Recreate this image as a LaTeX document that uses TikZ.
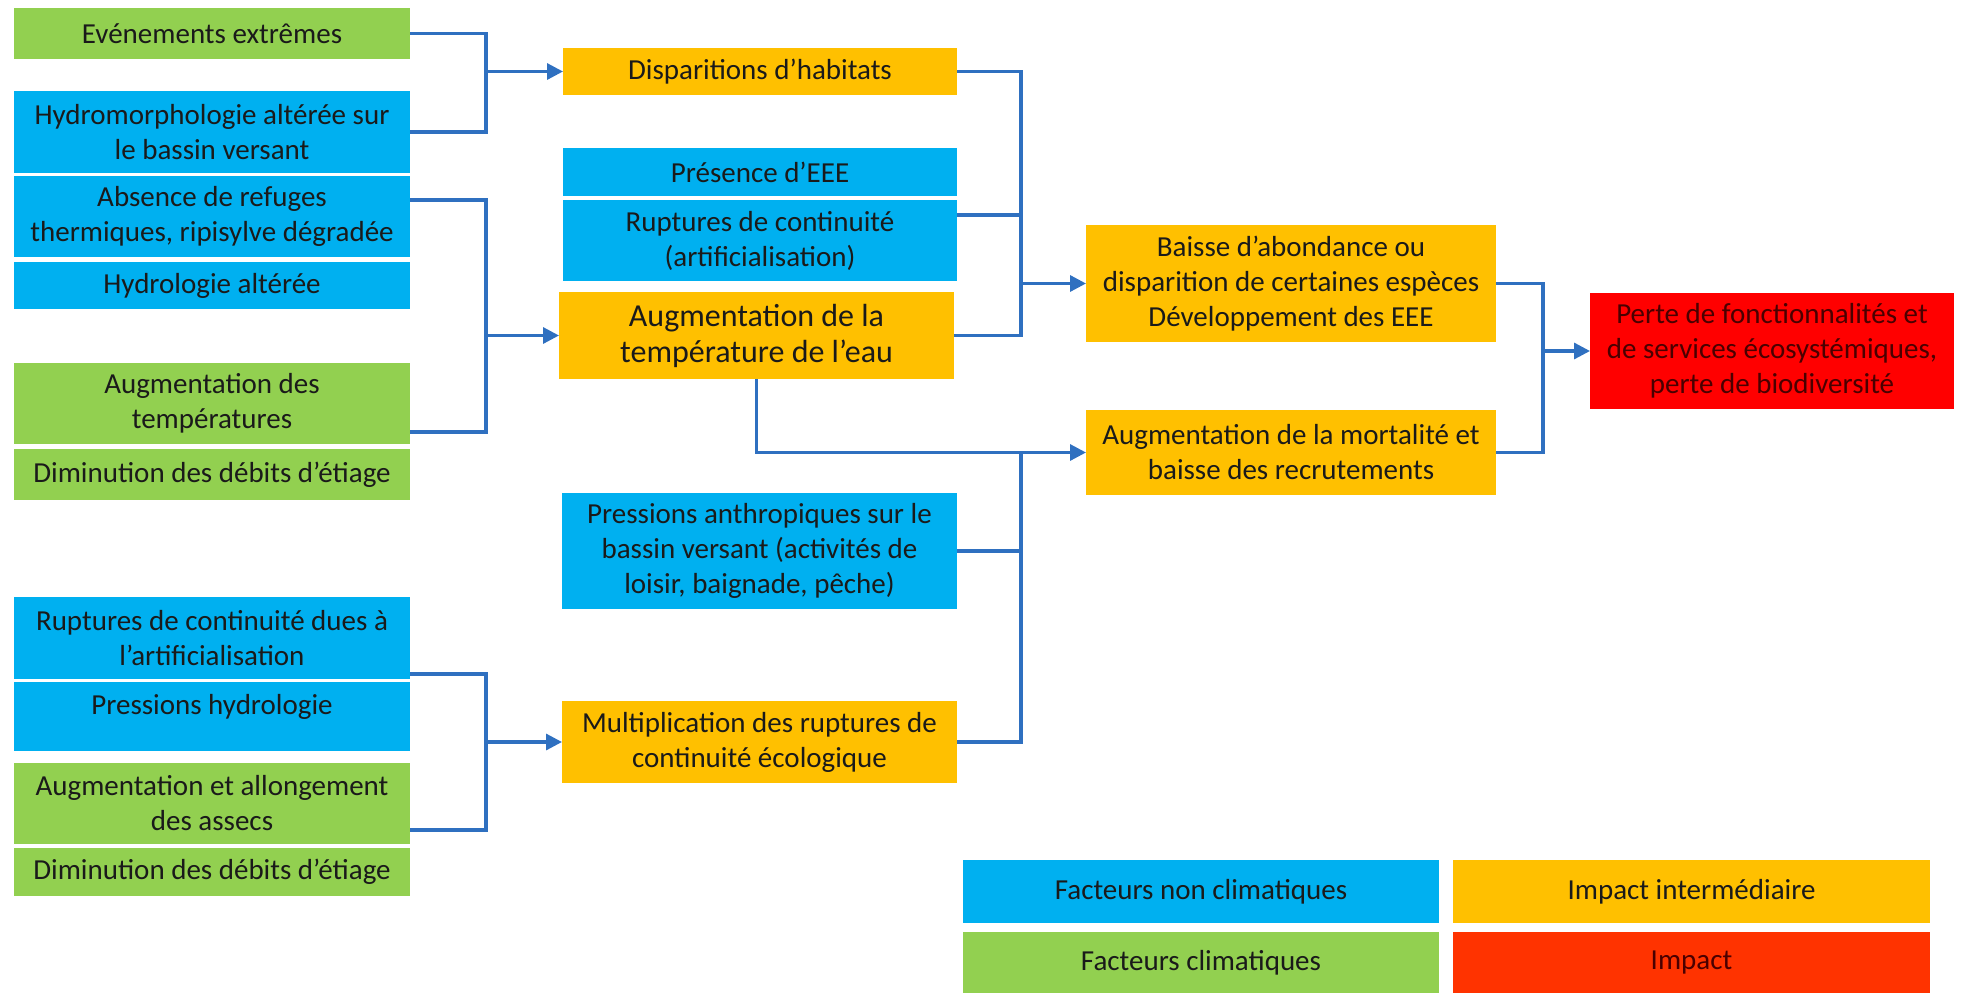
\documentclass[tikz,border=0pt]{standalone}
\usepackage{fontspec}
\setmainfont{Carlito}
\usetikzlibrary{arrows.meta,calc}
\definecolor{cblue}{HTML}{00B0F0}
\definecolor{cgreen}{HTML}{92D050}
\definecolor{corange}{HTML}{FFC000}
\definecolor{cred}{HTML}{FF0000}
\definecolor{cimpact}{HTML}{FF3300}
\definecolor{cline}{HTML}{2F70C0}
\definecolor{ctext}{HTML}{1A1A1A}
\definecolor{credtext}{HTML}{4A0000}
\begin{document}
\begin{tikzpicture}[x=1pt,y=-1pt,
  box/.style={rectangle, inner sep=0pt, outer sep=0pt, align=center, text=ctext,
    font=\fontsize{29}{35}\selectfont},
  nonclim/.style={box, fill=cblue},
  clim/.style={box, fill=cgreen},
  inter/.style={box, fill=corange},
  impactbox/.style={box, fill=cred, text=credtext},
  conn/.style={draw=cline, line width=3.2pt},
  arr/.style={conn, -{Triangle[length=16pt,width=16pt]}}
]
\useasboundingbox (0,0) rectangle (1968,993);
\fill[white] (0,0) rectangle (1968,993);

% left column
\node[clim, minimum width=396pt, minimum height=51pt] (ev) at (212,33.5) {Evénements extrêmes};
\node[nonclim, minimum width=396pt, minimum height=82pt] (hm) at (212,132) {Hydromorphologie altérée sur\\le bassin versant};
\node[nonclim, minimum width=396pt, minimum height=81pt] (abs) at (212,216.5) {Absence de refuges\\thermiques, ripisylve dégradée};
\node[nonclim, minimum width=396pt, minimum height=47pt] (hyd) at (212,285.5) {Hydrologie altérée};
\node[clim, minimum width=396pt, minimum height=81pt] (augT) at (212,403.5) {Augmentation des\\températures};
\node[clim, minimum width=396pt, minimum height=51pt] (dim1) at (212,474.5) {Diminution des débits d’étiage};
\node[nonclim, minimum width=396pt, minimum height=82pt] (rd) at (212,638) {Ruptures de continuité dues à\\l’artificialisation};
\node[nonclim, minimum width=396pt, minimum height=69pt, text depth=24pt] (ph) at (212,716.5) {Pressions hydrologie};
\node[clim, minimum width=396pt, minimum height=81pt] (aa) at (212,803.5) {Augmentation et allongement\\des assecs};
\node[clim, minimum width=396pt, minimum height=48pt] (dim2) at (212,872) {Diminution des débits d’étiage};

% middle column
\node[inter, minimum width=394pt, minimum height=47pt] (dis) at (760,71.5) {Disparitions d’habitats};
\node[nonclim, minimum width=394pt, minimum height=48pt] (pe) at (760,172) {Présence d’EEE};
\node[nonclim, minimum width=394pt, minimum height=81pt] (ra) at (760,240.5) {Ruptures de continuité\\(artificialisation)};
\node[inter, minimum width=395pt, minimum height=87pt, font=\fontsize{32}{36}\selectfont] (augE) at (756.5,335.5) {Augmentation de la\\température de l’eau};
\node[nonclim, minimum width=395pt, minimum height=116pt] (pa) at (759.5,551) {Pressions anthropiques sur le\\bassin versant (activités de\\loisir, baignade, pêche)};
\node[inter, minimum width=395pt, minimum height=82pt] (mu) at (759.5,742) {Multiplication des ruptures de\\continuité écologique};

% right column
\node[inter, minimum width=410pt, minimum height=117pt] (ba) at (1291,283.5) {Baisse d’abondance ou\\disparition de certaines espèces\\Développement des EEE};
\node[inter, minimum width=410pt, minimum height=85pt] (am) at (1291,452.5) {Augmentation de la mortalité et\\baisse des recrutements};
\node[impactbox, minimum width=364pt, minimum height=116pt] (pf) at (1772,351) {Perte de fonctionnalités et\\de services écosystémiques,\\perte de biodiversité};

% legend
\node[nonclim, minimum width=476pt, minimum height=63pt] (lnc) at (1201,891.5) {Facteurs non climatiques};
\node[inter, minimum width=477pt, minimum height=63pt] (lii) at (1691.5,891.5) {Impact intermédiaire};
\node[clim, minimum width=476pt, minimum height=61pt] (lc) at (1201,962.5) {Facteurs climatiques};
\node[box, fill=cimpact, text=credtext, minimum width=477pt, minimum height=61pt] (li) at (1691.5,962.5) {Impact};

% connectors
\coordinate (xa) at (486,0);
\coordinate (xb) at (1021,0);
\coordinate (xc) at (1543,0);
\coordinate (j1) at (dis.west -| xa);
\coordinate (j2) at (augE.west -| xa);
\coordinate (j3) at (mu.west -| xa);
\coordinate (j4) at (ba.west -| xb);
\coordinate (j5) at (am.west -| xb);
\coordinate (j6) at (pf.west -| xc);

\draw[conn] (ev.east) -| (j1) |- (hm.east);
\draw[arr] (j1) -- (dis.west);

\draw[conn] ([yshift=-24pt]abs.north east) -| (j2) |- ([yshift=12pt]augT.south east);
\draw[arr] (j2) -- (augE.west);

\draw[conn] ([yshift=5pt]rd.south east) -| (j3) |- ([yshift=14pt]aa.south east);
\draw[arr] (j3) -- (mu.west);

\draw[conn] (dis.east) -| (j4) |- (augE.east);
\draw[conn] ([yshift=-15pt]ra.north east) -- ([yshift=-15pt]ra.north east -| xb);
\draw[arr] (j4) -- (ba.west);

\draw[arr] (augE.south) |- (am.west);
\draw[conn] (pa.east) -| (j5) |- (mu.east);

\draw[conn] (ba.east) -| (j6) |- (am.east);
\draw[arr] (j6) -- (pf.west);
\end{tikzpicture}
\end{document}
